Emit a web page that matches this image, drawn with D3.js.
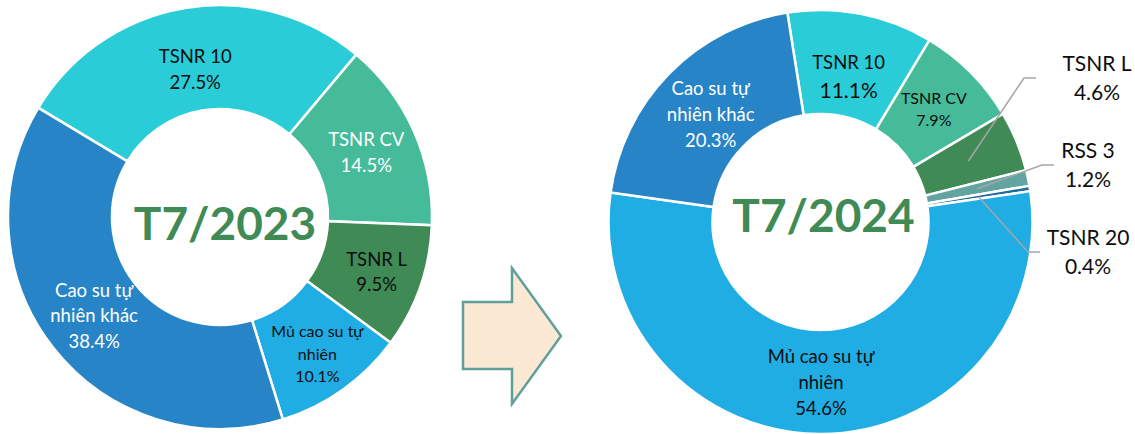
<!DOCTYPE html>
<html>
<head>
<meta charset="utf-8">
<script src="https://cdn.jsdelivr.net/npm/d3@7"></script>
<style>
  body { margin: 0; background: #fff; }
  svg { display: block; font-family: Lato, "Open Sans", sans-serif; }
</style>
</head>
<body>
<svg width="1135" height="434"></svg>
<script>
// share by product, July 2023 and July 2024 (%)
var cats2023 = ["TSNR 10", "TSNR CV", "TSNR L", "Mủ cao su tự nhiên", "Cao su tự nhiên khác"];
var vals2023 = [27.5, 14.5, 9.5, 10.1, 38.4];

var cats2024 = ["TSNR 10", "TSNR CV", "TSNR L", "RSS 3", "TSNR 20", "Mủ cao su tự nhiên", "Cao su tự nhiên khác"];
var vals2024 = [11.1, 7.9, 4.6, 1.2, 0.4, 54.6, 20.3];

var titles = ["T7/2023", "T7/2024"];

var colors = {
  "TSNR 10": "#2acdd7",
  "TSNR CV": "#45bb99",
  "TSNR L": "#3f8a55",
  "RSS 3": "#62a5a0",
  "TSNR 20": "#1f6a9e",
  "Mủ cao su tự nhiên": "#1fade4",
  "Cao su tự nhiên khác": "#2784c7"
};

// how long names are broken in the labels
var lineBreaks = {
  "Mủ cao su tự nhiên": ["Mủ cao su tự", "nhiên"],
  "Cao su tự nhiên khác": ["Cao su tự", "nhiên khác"]
};

var svg = d3.select("svg");
var deg = Math.PI / 180;
var rOuter = 212, rInner = 108;

var arc = d3.arc().innerRadius(rInner).outerRadius(rOuter);

function fmt(v) { return v.toFixed(1) + "%"; }

function drawDonut(cfg) {
  var pie = d3.pie().sort(null)
      .startAngle(cfg.start * deg)
      .endAngle(cfg.start * deg + 2 * Math.PI);
  var data = cfg.cats.map(function(c, i) { return { name: c, value: cfg.vals[i] }; });
  var arcs = pie.value(function(d) { return d.value; })(data);

  var g = svg.append("g")
      .attr("transform", "translate(" + cfg.cx + "," + cfg.cy + ")");

  g.selectAll("path.slice")
    .data(arcs)
    .enter().append("path")
      .attr("class", "slice")
      .attr("d", arc)
      .attr("fill", function(d) { return colors[d.data.name]; })
      .attr("stroke", "#fff")
      .attr("stroke-width", 2.5)
      .attr("stroke-linejoin", "miter");

  // centre title
  g.append("text")
      .attr("x", cfg.titleDx)
      .attr("y", cfg.titleDy)
      .attr("text-anchor", "middle")
      .attr("font-weight", "bold")
      .attr("font-size", 46)
      .attr("fill", "#3f8a55")
      .text(cfg.title);

  arcs.forEach(function(d) {
    var name = d.data.name;
    var lines = (lineBreaks[name] || [name]).slice();
    var size = cfg.small.indexOf(name) >= 0 ? 16 : 18.5;
    var sizes = lines.map(function() { return size; });
    lines.push(fmt(d.data.value));
    sizes.push(cfg.bigPct.indexOf(name) >= 0 ? 21 : size);

    var callout = cfg.callouts[name];
    var pos, anchorCol = cfg.white.indexOf(name) >= 0 ? "#fff" : "#0d0d0d";
    var mid = (d.startAngle + d.endAngle) / 2;

    if (callout) {
      sizes = sizes.map(function() { return 21; });
      var start = d3.arc().innerRadius(160).outerRadius(160).centroid(d);
      var ex = callout.elbowX - cfg.cx, ey = callout.y - cfg.cy;
      g.append("polyline")
          .attr("points", [start, [ex, ey], [ex + 12, ey]].map(function(p) { return p.join(","); }).join(" "))
          .attr("fill", "none")
          .attr("stroke", "#a6a6a6")
          .attr("stroke-width", 1.5);
      pos = [callout.x - cfg.cx, callout.y - cfg.cy];
    } else {
      var r = cfg.labelR[name] || 160;
      pos = [Math.sin(mid) * r, -Math.cos(mid) * r];
    }

    // stack the lines so that the block is centred on pos
    var steps = sizes.map(function(s, i) { return i === 0 ? 0 : 1.4 * s; });
    var cap = 0.72 * sizes[0];
    var total = cap + d3.sum(steps);
    var y = pos[1] - total / 2 + cap;
    var t = g.append("text")
        .attr("text-anchor", "middle")
        .attr("fill", anchorCol);
    lines.forEach(function(line, i) {
      y += steps[i];
      t.append("tspan")
          .attr("x", pos[0])
          .attr("y", y)
          .attr("font-size", sizes[i])
          .text(line);
    });
  });
}

drawDonut({
  cats: cats2023, vals: vals2023, title: titles[0],
  cx: 220, cy: 217, start: -59,
  titleDx: 5, titleDy: 23,
  small: ["Mủ cao su tự nhiên"],
  white: ["TSNR CV", "Cao su tự nhiên khác"],
  bigPct: [],
  labelR: { "TSNR 10": 150, "TSNR L": 166, "Mủ cao su tự nhiên": 168 },
  callouts: {}
});

drawDonut({
  cats: cats2024, vals: vals2024, title: titles[1],
  cx: 820.5, cy: 222, start: -9,
  titleDx: 3, titleDy: 10,
  small: ["TSNR CV"],
  white: ["Cao su tự nhiên khác"],
  bigPct: ["TSNR 10"],
  labelR: { "TSNR 10": 148, "Cao su tự nhiên khác": 154 },
  callouts: {
    "TSNR L": { x: 1097, y: 78, elbowX: 1024 },
    "RSS 3": { x: 1088, y: 165, elbowX: 1042 },
    "TSNR 20": { x: 1088, y: 252, elbowX: 1028 }
  }
});

// block arrow between the two years
var arrow = [[463, 302], [512, 302], [512, 268], [561, 336], [512, 404], [512, 369], [463, 369]];
svg.append("polygon")
    .attr("points", arrow.map(function(p) { return p.join(","); }).join(" "))
    .attr("fill", "#fce9d4")
    .attr("stroke", "#5e9f98")
    .attr("stroke-width", 2.5);
</script>
</body>
</html>
